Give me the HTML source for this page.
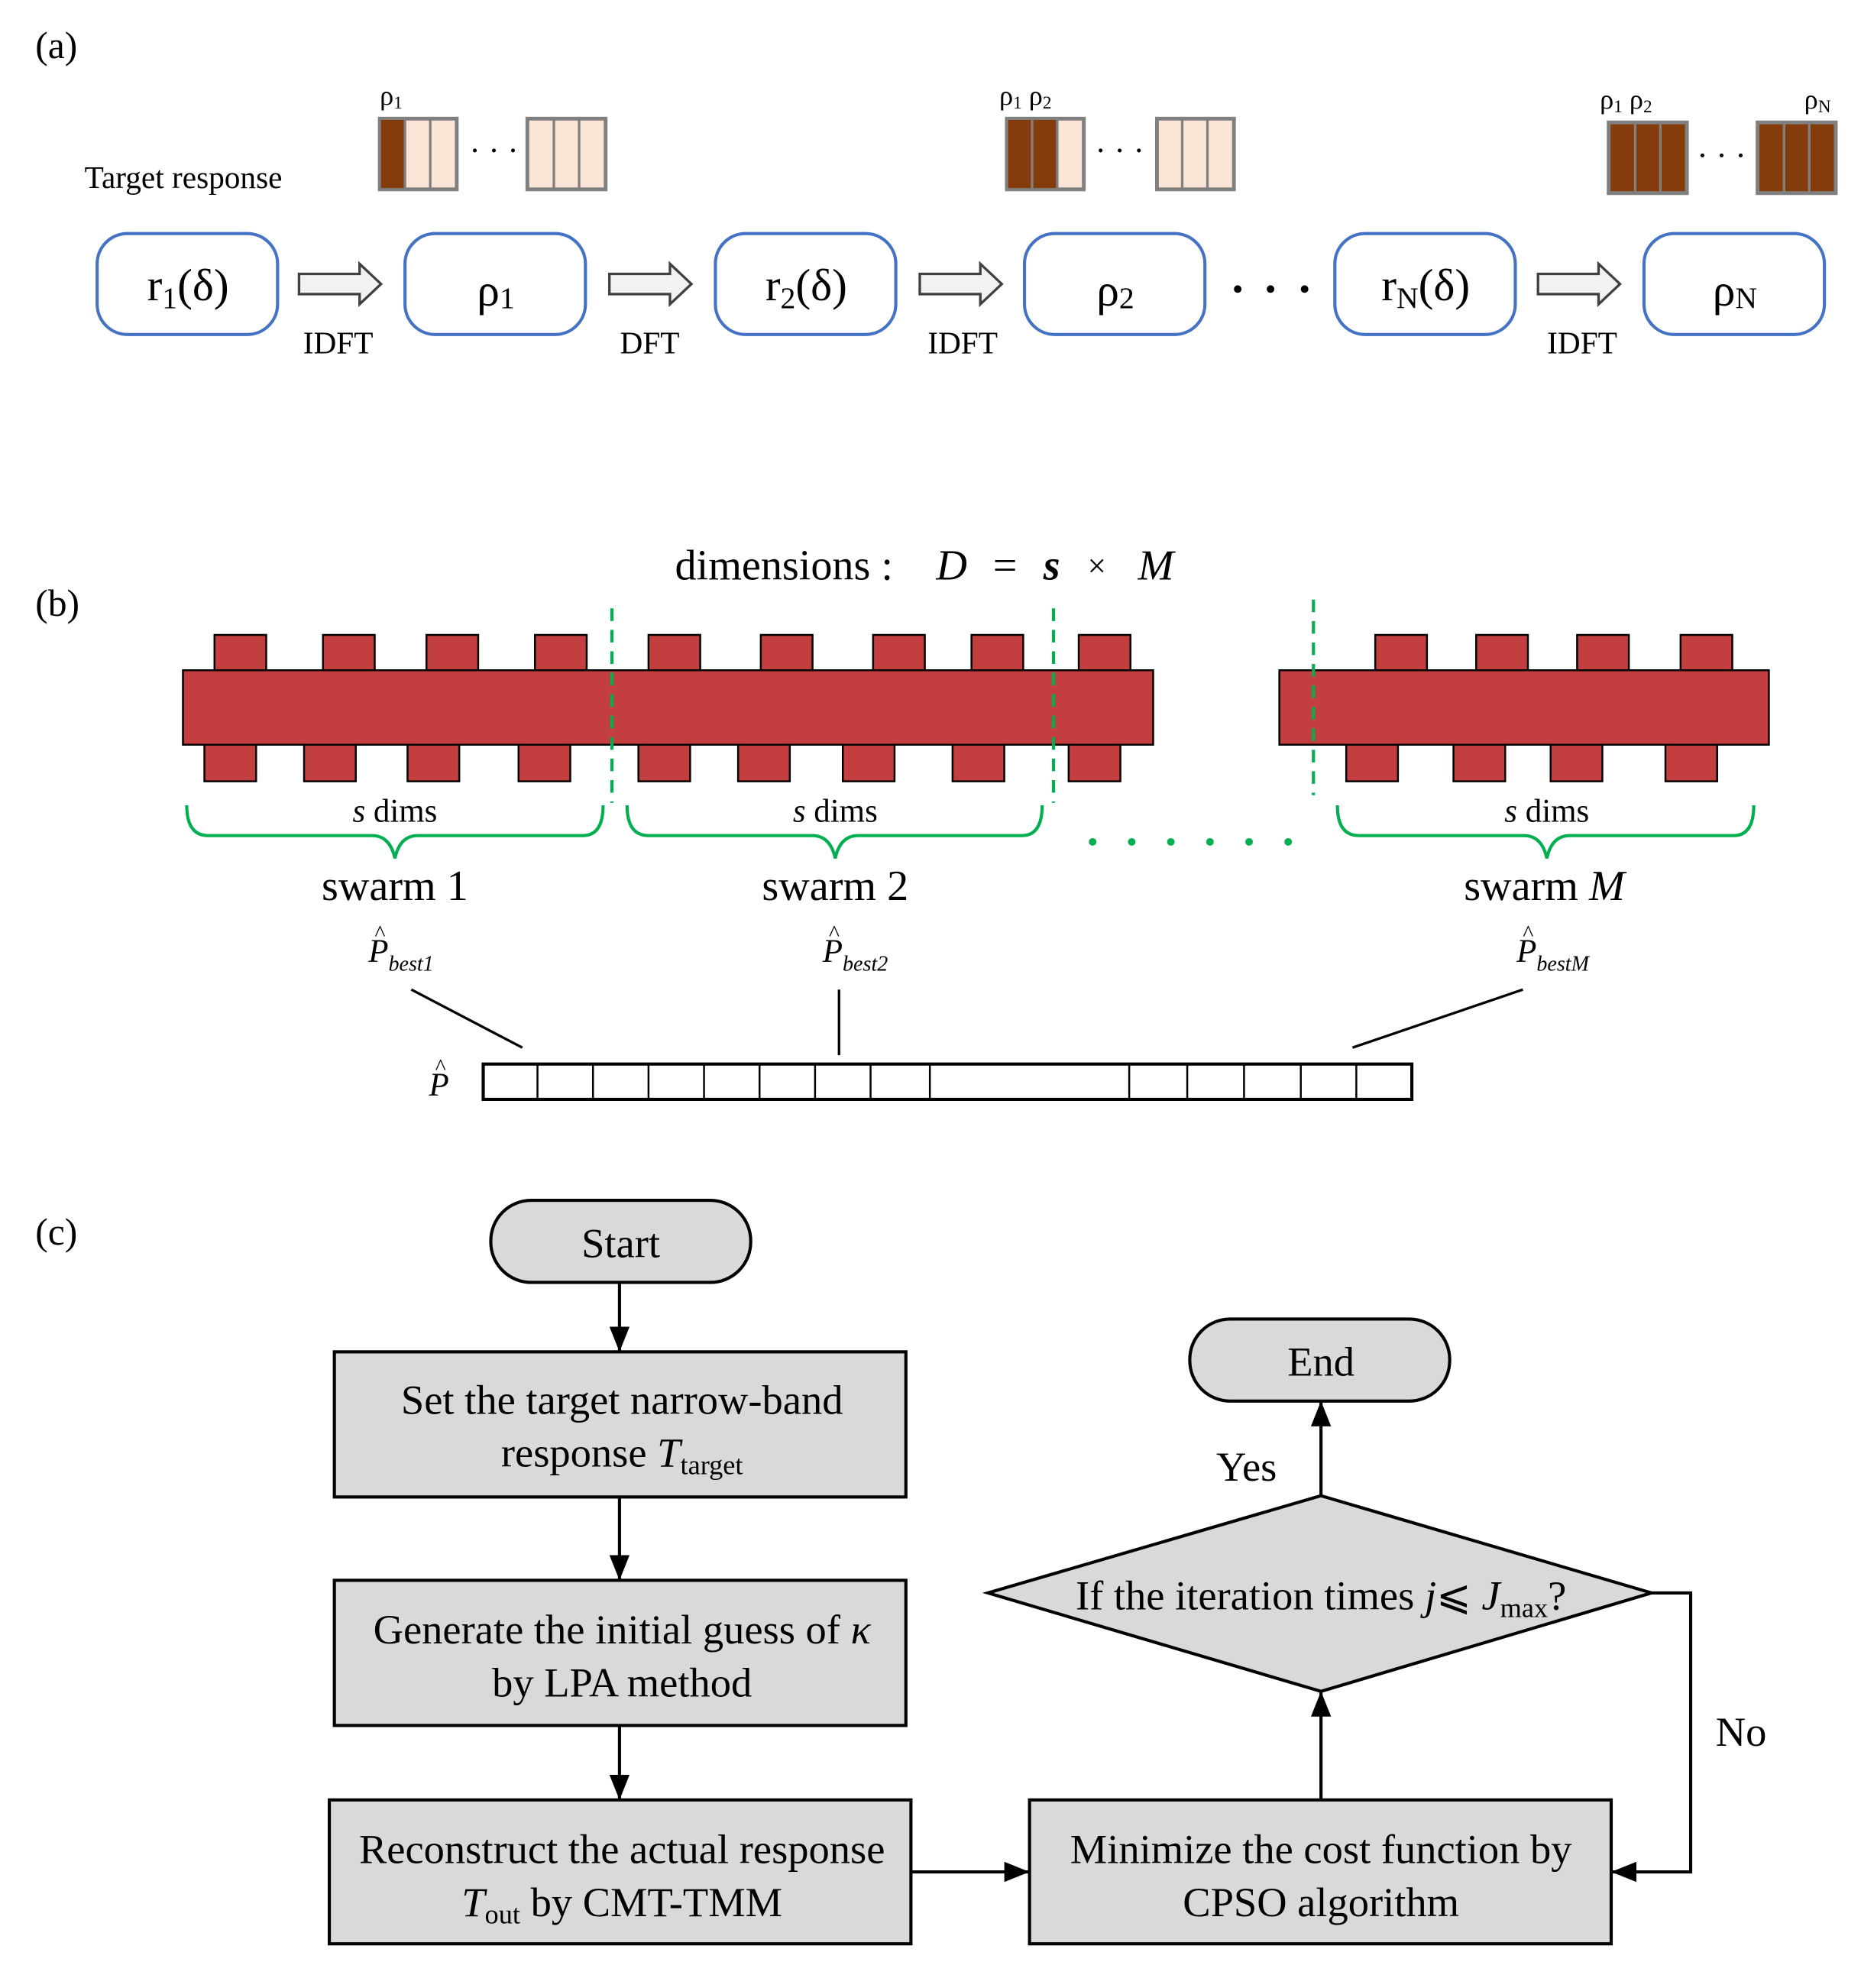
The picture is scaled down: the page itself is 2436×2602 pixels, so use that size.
<!DOCTYPE html>
<html><head><meta charset="utf-8"><style>html,body{margin:0;padding:0;background:#fff}svg{display:block;font-family:"Liberation Serif","DejaVu Serif",serif}</style></head>
<body>
<svg width="2436" height="2602" viewBox="0 0 1475 1575" preserveAspectRatio="none" xmlns="http://www.w3.org/2000/svg">
<defs>
<marker id="ah" markerWidth="20" markerHeight="16" refX="19" refY="8" orient="auto" markerUnits="userSpaceOnUse" viewBox="0 0 20 16"><path d="M0,0 L20,8 L0,16 z" fill="#000"/></marker>
</defs>
<!-- (a) -->
<text x="28" y="46" font-size="30">(a)</text>
<text x="67" y="149" font-size="25">Target response</text>
<g stroke="#808080" stroke-width="2">
<rect x="301" y="94" width="61" height="56" fill="#FBE5D6" stroke-width="3"/>
<rect x="302" y="95" width="19" height="54" fill="#843C0C" stroke="none"/>
<line x1="321" y1="94" x2="321" y2="150"/><line x1="341" y1="94" x2="341" y2="150"/>
<rect x="418" y="94" width="62" height="56" fill="#FBE5D6" stroke-width="3"/>
<line x1="439" y1="94" x2="439" y2="150"/><line x1="459" y1="94" x2="459" y2="150"/>
<rect x="798" y="94" width="61" height="56" fill="#FBE5D6" stroke-width="3"/>
<rect x="799" y="95" width="39" height="54" fill="#843C0C" stroke="none"/>
<line x1="818" y1="94" x2="818" y2="150"/><line x1="838" y1="94" x2="838" y2="150"/>
<rect x="917" y="94" width="61" height="56" fill="#FBE5D6" stroke-width="3"/>
<line x1="937" y1="94" x2="937" y2="150"/><line x1="957" y1="94" x2="957" y2="150"/>
<rect x="1275" y="97" width="62" height="56" fill="#843C0C" stroke-width="3"/>
<line x1="1296" y1="97" x2="1296" y2="153"/><line x1="1316" y1="97" x2="1316" y2="153"/>
<rect x="1393" y="97" width="62" height="56" fill="#843C0C" stroke-width="3"/>
<line x1="1414" y1="97" x2="1414" y2="153"/><line x1="1434" y1="97" x2="1434" y2="153"/>
</g>
<text x="372" y="128" font-size="26">· · ·</text>
<text x="868" y="128" font-size="26">· · ·</text>
<text x="1345" y="132" font-size="26">· · ·</text>
<text x="301" y="83" font-size="22">ρ<tspan font-size="14" dy="3">1</tspan></text>
<text x="792" y="83" font-size="22">ρ<tspan font-size="14" dy="3">1</tspan><tspan dy="-3"> ρ</tspan><tspan font-size="14" dy="3">2</tspan></text>
<text x="1268" y="86" font-size="22">ρ<tspan font-size="14" dy="3">1</tspan><tspan dy="-3"> ρ</tspan><tspan font-size="14" dy="3">2</tspan></text>
<text x="1430" y="86" font-size="22">ρ<tspan font-size="14" dy="3">N</tspan></text>
<g fill="#fff" stroke="#4472C4" stroke-width="2.5">
<rect x="77" y="185" width="143" height="80" rx="24"/>
<rect x="321" y="185" width="143" height="80" rx="24"/>
<rect x="567" y="185" width="143" height="80" rx="24"/>
<rect x="812" y="185" width="143" height="80" rx="24"/>
<rect x="1058" y="185" width="143" height="80" rx="24"/>
<rect x="1303" y="185" width="143" height="80" rx="24"/>
</g>
<g font-size="36" text-anchor="middle">
<text x="149" y="238">r<tspan font-size="24" dy="6">1</tspan><tspan dy="-6">(δ)</tspan></text>
<text x="393" y="242">ρ<tspan font-size="24" dy="2">1</tspan></text>
<text x="639" y="238">r<tspan font-size="24" dy="6">2</tspan><tspan dy="-6">(δ)</tspan></text>
<text x="884" y="242">ρ<tspan font-size="24" dy="2">2</tspan></text>
<text x="1130" y="238">r<tspan font-size="24" dy="6">N</tspan><tspan dy="-6">(δ)</tspan></text>
<text x="1375" y="242">ρ<tspan font-size="24" dy="2">N</tspan></text>
</g>
<g fill="#000"><circle cx="981" cy="229" r="3"/><circle cx="1007" cy="229" r="3"/><circle cx="1034" cy="229" r="3"/></g>
<g fill="#F2F2F2" stroke="#404040" stroke-width="2">
<path d="M237,217 L285,217 L285,209 L302,225 L285,241 L285,233 L237,233 Z"/>
<path d="M483,217 L531,217 L531,209 L548,225 L531,241 L531,233 L483,233 Z"/>
<path d="M729,217 L777,217 L777,209 L794,225 L777,241 L777,233 L729,233 Z"/>
<path d="M1219,217 L1267,217 L1267,209 L1284,225 L1267,241 L1267,233 L1219,233 Z"/>
</g>
<g font-size="25" text-anchor="middle">
<text x="268" y="280">IDFT</text><text x="515" y="280">DFT</text><text x="763" y="280">IDFT</text><text x="1254" y="280">IDFT</text>
</g>
<!-- (b) -->
<g font-size="34">
<text x="535" y="459">dimensions :</text>
<text x="742" y="459" font-style="italic">D</text>
<text x="787" y="459">=</text>
<text x="827" y="459" font-style="italic" font-weight="bold">s</text>
<text x="862" y="457" font-size="26">×</text>
<text x="902" y="459" font-style="italic">M</text>
</g>
<text x="28" y="488" font-size="30">(b)</text>
<g fill="#C33E3F" stroke="#000" stroke-width="1.5">
<rect x="170" y="503" width="41" height="29"/><rect x="256" y="503" width="41" height="29"/><rect x="338" y="503" width="41" height="29"/><rect x="424" y="503" width="41" height="29"/><rect x="514" y="503" width="41" height="29"/><rect x="603" y="503" width="41" height="29"/><rect x="692" y="503" width="41" height="29"/><rect x="770" y="503" width="41" height="29"/><rect x="855" y="503" width="41" height="29"/>
<rect x="162" y="589" width="41" height="30"/><rect x="241" y="589" width="41" height="30"/><rect x="323" y="589" width="41" height="30"/><rect x="411" y="589" width="41" height="30"/><rect x="506" y="589" width="41" height="30"/><rect x="585" y="589" width="41" height="30"/><rect x="668" y="589" width="41" height="30"/><rect x="755" y="589" width="41" height="30"/><rect x="847" y="589" width="41" height="30"/>
<rect x="1090" y="503" width="41" height="29"/><rect x="1170" y="503" width="41" height="29"/><rect x="1250" y="503" width="41" height="29"/><rect x="1332" y="503" width="41" height="29"/>
<rect x="1067" y="589" width="41" height="30"/><rect x="1152" y="589" width="41" height="30"/><rect x="1229" y="589" width="41" height="30"/><rect x="1320" y="589" width="41" height="30"/>
<rect x="145" y="531" width="769" height="59"/>
<rect x="1014" y="531" width="388" height="59"/>
</g>
<g stroke="#00B050" stroke-width="2.5" stroke-dasharray="10,7" fill="none">
<line x1="485" y1="482" x2="485" y2="636"/><line x1="835" y1="482" x2="835" y2="636"/><line x1="1041" y1="475" x2="1041" y2="630"/>
</g>
<g stroke="#00B050" stroke-width="2.5" fill="none">
<path d="M148,638 Q148,662 165,662 L295,662 Q309,662 313,680 Q317,662 331,662 L462,662 Q478,662 478,638"/>
<path d="M497,638 Q497,662 514,662 L644,662 Q658,662 662,680 Q666,662 680,662 L810,662 Q826,662 826,638"/>
<path d="M1060,638 Q1060,662 1077,662 L1208,662 Q1222,662 1226,680 Q1230,662 1244,662 L1374,662 Q1390,662 1390,638"/>
</g>
<g fill="#00B050"><circle cx="866" cy="667" r="3"/><circle cx="897" cy="667" r="3"/><circle cx="928" cy="667" r="3"/><circle cx="959" cy="667" r="3"/><circle cx="990" cy="667" r="3"/><circle cx="1021" cy="667" r="3"/></g>
<g font-size="26" text-anchor="middle">
<text x="313" y="651"><tspan font-style="italic">s</tspan> dims</text>
<text x="662" y="651"><tspan font-style="italic">s</tspan> dims</text>
<text x="1226" y="651"><tspan font-style="italic">s</tspan> dims</text>
</g>
<g font-size="34" text-anchor="middle">
<text x="313" y="713">swarm 1</text><text x="662" y="713">swarm 2</text><text x="1224" y="713">swarm <tspan font-style="italic">M</tspan></text>
</g>
<g font-size="26" font-style="italic">
<text x="292" y="762">P<tspan font-size="17" dy="7">best1</tspan></text><text x="297" y="745" font-size="18" font-style="normal">^</text>
<text x="652" y="762">P<tspan font-size="17" dy="7">best2</tspan></text><text x="657" y="745" font-size="18" font-style="normal">^</text>
<text x="1202" y="762">P<tspan font-size="17" dy="7">bestM</tspan></text><text x="1207" y="745" font-size="18" font-style="normal">^</text>
<text x="340" y="868">P</text><text x="345" y="851" font-size="18" font-style="normal">^</text>
</g>
<g stroke="#000" stroke-width="2">
<line x1="326" y1="784" x2="414" y2="830"/><line x1="665" y1="784" x2="665" y2="836"/><line x1="1207" y1="784" x2="1072" y2="830"/>
</g>
<rect x="383" y="843" width="736" height="28" fill="#fff" stroke="#000" stroke-width="2.5"/>
<g stroke="#000" stroke-width="1.5">
<line x1="426" y1="843" x2="426" y2="871"/><line x1="470" y1="843" x2="470" y2="871"/><line x1="514" y1="843" x2="514" y2="871"/><line x1="558" y1="843" x2="558" y2="871"/><line x1="602" y1="843" x2="602" y2="871"/><line x1="646" y1="843" x2="646" y2="871"/><line x1="690" y1="843" x2="690" y2="871"/><line x1="737" y1="843" x2="737" y2="871"/><line x1="895" y1="843" x2="895" y2="871"/><line x1="941" y1="843" x2="941" y2="871"/><line x1="986" y1="843" x2="986" y2="871"/><line x1="1031" y1="843" x2="1031" y2="871"/><line x1="1075" y1="843" x2="1075" y2="871"/>
</g>
<!-- (c) -->
<text x="28" y="986" font-size="30">(c)</text>
<g fill="#D9D9D9" stroke="#000" stroke-width="2.5">
<rect x="389" y="951" width="206" height="65" rx="32"/>
<rect x="943" y="1045" width="206" height="65" rx="32"/>
<rect x="265" y="1071" width="453" height="115"/>
<rect x="265" y="1252" width="453" height="115"/>
<rect x="261" y="1426" width="461" height="114"/>
<rect x="816" y="1426" width="461" height="114"/>
<path d="M1047,1185 L1309,1262 L1047,1340 L783,1262 Z"/>
</g>
<g stroke="#000" stroke-width="2.5" fill="none" marker-end="url(#ah)">
<line x1="491" y1="1016" x2="491" y2="1070"/>
<line x1="491" y1="1186" x2="491" y2="1251"/>
<line x1="491" y1="1367" x2="491" y2="1425"/>
<line x1="722" y1="1483" x2="815" y2="1483"/>
<line x1="1047" y1="1426" x2="1047" y2="1341"/>
<line x1="1047" y1="1185" x2="1047" y2="1111"/>
<path d="M1309,1262 L1340,1262 L1340,1483 L1278,1483"/>
</g>
<g font-size="33" text-anchor="middle">
<text x="492" y="996">Start</text>
<text x="1047" y="1090">End</text>
<text x="493" y="1120">Set the target narrow-band</text>
<text x="493" y="1162">response <tspan font-style="italic">T</tspan><tspan font-size="22" dy="6">target</tspan></text>
<text x="493" y="1302">Generate the initial guess of  <tspan font-style="italic">κ</tspan></text>
<text x="493" y="1344">by LPA method</text>
<text x="493" y="1476">Reconstruct the actual response</text>
<text x="493" y="1518"><tspan font-style="italic">T</tspan><tspan font-size="22" dy="6">out</tspan><tspan dy="-6">  by CMT-TMM</tspan></text>
<text x="1047" y="1476">Minimize the cost function by</text>
<text x="1047" y="1518">CPSO algorithm</text>
<text x="1047" y="1275">If the iteration times <tspan font-style="italic">j</tspan>⩽ <tspan font-style="italic">J</tspan><tspan font-size="22" dy="6">max</tspan><tspan dy="-6">?</tspan></text>
<text x="988" y="1173">Yes</text>
<text x="1380" y="1383">No</text>
</g>
</svg>
</body></html>
